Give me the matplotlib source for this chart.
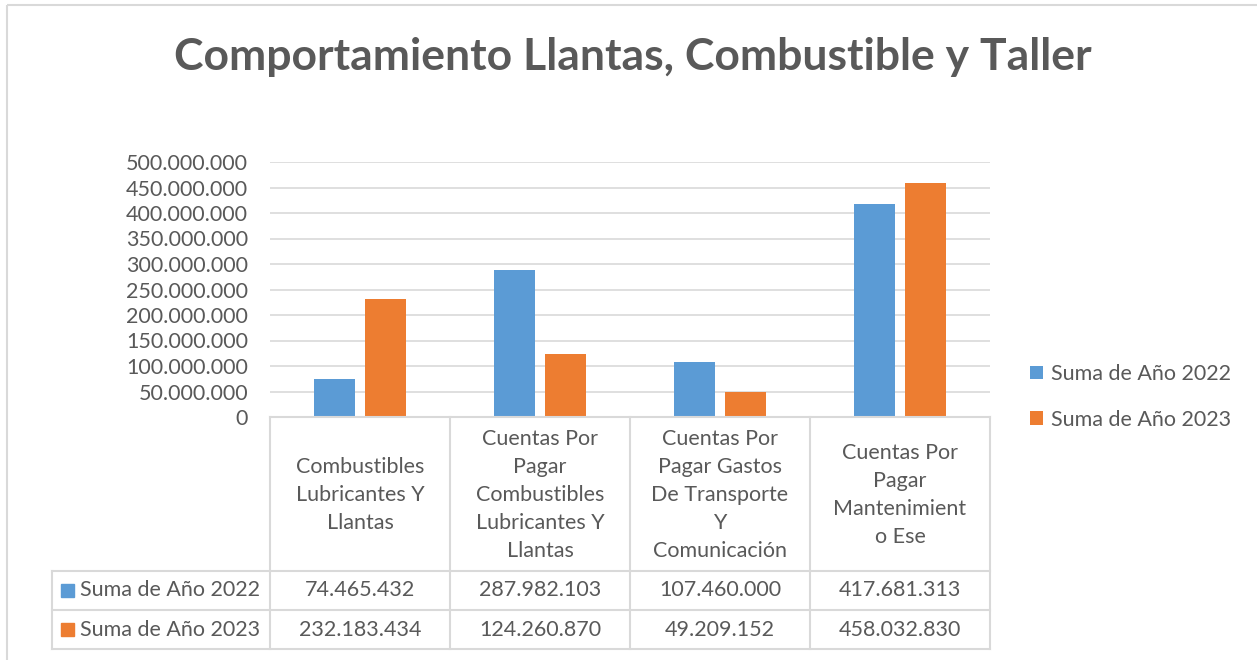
import matplotlib
matplotlib.use("Agg")
import numpy as np
import matplotlib.pyplot as plt
from matplotlib.patches import Rectangle
from matplotlib.transforms import Affine2D

# datos
categorias = [
    "Combustibles\nLubricantes Y\nLlantas",
    "Cuentas Por\nPagar\nCombustibles\nLubricantes Y\nLlantas",
    "Cuentas Por\nPagar Gastos\nDe Transporte\nY\nComunicación",
    "Cuentas Por\nPagar\nMantenimient\no Ese",
]
series = ["Suma de Año 2022", "Suma de Año 2023"]
valores_2022 = [74465432, 287982103, 107460000, 417681313]
valores_2023 = [232183434, 124260870, 49209152, 458032830]
marcas_y = list(range(0, 500000001, 50000000))
titulo = "Comportamiento Llantas, Combustible y Taller"

azul = "#5B9BD5"
naranja = "#ED7D31"
gris_texto = "#595959"
gris_linea = "#D9D9D9"

plt.rcParams["font.family"] = ["Lato", "DejaVu Sans"]
fs = 15.5


def miles(v):
    return f"{v:,}".replace(",", ".")


W, H = 1257, 660
fig = plt.figure(figsize=(W / 100, H / 100), dpi=100)
# pixel coords, y going down
pix = Affine2D().scale(1 / W, -1 / H).translate(0, 1) + fig.transFigure

x0, x1, ytop, ybot = 270, 990, 162, 417
ax = fig.add_axes([x0 / W, 1 - ybot / H, (x1 - x0) / W, (ybot - ytop) / H])

x = np.arange(len(categorias))
ancho = 0.228
b1 = ax.bar(x - 0.142, valores_2022, ancho, color=azul, label=series[0], zorder=3)
b2 = ax.bar(x + 0.142, valores_2023, ancho, color=naranja, label=series[1], zorder=3)

ax.set_xlim(-0.5, len(categorias) - 0.5)
ax.set_ylim(0, 500000000)
ax.set_yticks(marcas_y)
ax.set_yticklabels([miles(v) for v in marcas_y])
ax.tick_params(axis="y", length=0, pad=15.8, labelsize=fs, labelcolor=gris_texto)
ax.set_xticks([])
ax.grid(axis="y", color=gris_linea, lw=1.2, zorder=0)
for s in ax.spines.values():
    s.set_visible(False)

ax.legend(loc="center left", bbox_to_anchor=(1011 / W, 1 - 397 / H),
          bbox_transform=fig.transFigure, frameon=False, fontsize=fs,
          handlelength=0.6, handleheight=0.6, handletextpad=0.35,
          labelspacing=1.2, labelcolor=gris_texto)

# tabla de datos
ancho_col = (x1 - x0) / len(categorias)
filas_y = [571, 610, 649]
lk = dict(color=gris_linea, lw=1.5, transform=pix, clip_on=False)
fig.add_artist(plt.Line2D([x0, x1], [ybot, ybot], **lk))
for i in range(len(categorias) + 1):
    xc = x0 + i * ancho_col
    fig.add_artist(plt.Line2D([xc, xc], [ybot, filas_y[-1]], **lk))
for yy in filas_y:
    fig.add_artist(plt.Line2D([52, x1], [yy, yy], **lk))
fig.add_artist(plt.Line2D([52, 52], [filas_y[0], filas_y[-1]], **lk))

for i, cat in enumerate(categorias):
    cx = x0 + (i + 0.5) * ancho_col
    fig.text(cx, 495, cat, transform=pix, ha="center", va="center",
             fontsize=fs, color=gris_texto, linespacing=1.5, multialignment="center")
    for j, vals in enumerate([valores_2022, valores_2023]):
        cy = (filas_y[j] + filas_y[j + 1]) / 2
        fig.text(cx, cy, miles(vals[i]), transform=pix, ha="center", va="center",
                 fontsize=fs, color=gris_texto)

for j, (nombre, col) in enumerate(zip(series, [azul, naranja])):
    cy = (filas_y[j] + filas_y[j + 1]) / 2
    fig.add_artist(Rectangle((61, cy - 6.5), 13, 13, transform=pix, color=col))
    fig.text(80, cy, nombre, transform=pix, ha="left", va="center",
             fontsize=fs, color=gris_texto)

fig.text(633, 57, titulo, transform=pix, ha="center", va="center",
         fontsize=32, fontweight="bold", color=gris_texto)

# borde del grafico
fig.add_artist(Rectangle((7, 5), 1400, 800, transform=pix, fill=False,
                         ec=gris_linea, lw=1.5))

fig.savefig("out.png", dpi=100)
